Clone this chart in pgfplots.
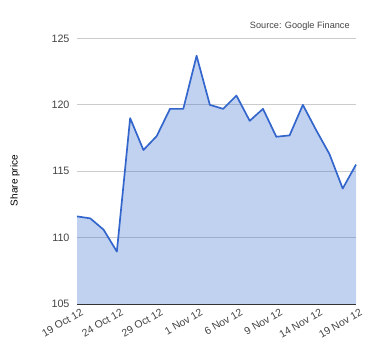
\documentclass[border=0pt]{standalone}
\usepackage{pgfplots}
\pgfplotsset{compat=1.18}
\usepackage{fontspec}
\setmainfont{Liberation Sans}
\definecolor{gblue}{HTML}{3366CC}
\definecolor{ggrid}{HTML}{CCCCCC}
\definecolor{gtext}{HTML}{444444}
\definecolor{gaxis}{HTML}{333333}
\begin{document}
\begin{tikzpicture}[x=1bp,y=1bp]
\useasboundingbox (0,0) rectangle (380,360);
\begin{axis}[
  at={(77bp,56bp)}, anchor=south west,
  scale only axis, width=279bp, height=265.5bp,
  xmin=0, xmax=21, ymin=105, ymax=125,
  ytick={105,110,115,120,125},
  xtick={0,3,6,9,12,15,18,21},
  xticklabels={19 Oct 12,24 Oct 12,29 Oct 12,1 Nov 12,6 Nov 12,9 Nov 12,14 Nov 12,19 Nov 12},
  x tick label style={rotate=30, anchor=north east, font=\fontsize{10.5}{12}\selectfont, text=gtext, inner sep=1pt, xshift=2bp, yshift=-4bp},
  y tick label style={font=\fontsize{10.8}{12}\selectfont, text=gtext, xshift=-4bp},
  /pgf/number format/assume math mode=true,
  ymajorgrids, major grid style={ggrid, line width=0.8pt},
  axis x line*=bottom, axis y line*=left,
  x axis line style={gaxis, line width=1pt, -},
  y axis line style={draw=none},
  major tick length=0pt,
  ylabel={Share price}, ylabel style={font=\fontsize{12}{14}\selectfont, text=gtext},
  every axis y label/.style={at={(axis description cs:-0.222,0.465)}, rotate=90, anchor=center},
  clip=false,
]
\addplot[draw=none, fill=gblue, fill opacity=0.3] coordinates {
(0,111.6)(1,111.45)(2,110.6)(3,108.95)(4,119.0)(5,116.6)(6,117.65)(7,119.7)(8,119.7)(9,123.7)(10,120.0)(11,119.7)(12,120.7)(13,118.8)(14,119.7)(15,117.6)(16,117.7)(17,120.0)(18,118.1)(19,116.3)(20,113.7)(21,115.5)
} \closedcycle;
\addplot[gblue, line width=1.7pt, mark=none, line join=round] coordinates {
(0,111.6)(1,111.45)(2,110.6)(3,108.95)(4,119.0)(5,116.6)(6,117.65)(7,119.7)(8,119.7)(9,123.7)(10,120.0)(11,119.7)(12,120.7)(13,118.8)(14,119.7)(15,117.6)(16,117.7)(17,120.0)(18,118.1)(19,116.3)(20,113.7)(21,115.5)
};
\node[anchor=base east, font=\fontsize{9.2}{11}\selectfont, text=gtext] at (rel axis cs:0.99,1.0) [yshift=10bp] {Source: Google Finance};
\end{axis}
\end{tikzpicture}
\end{document}
